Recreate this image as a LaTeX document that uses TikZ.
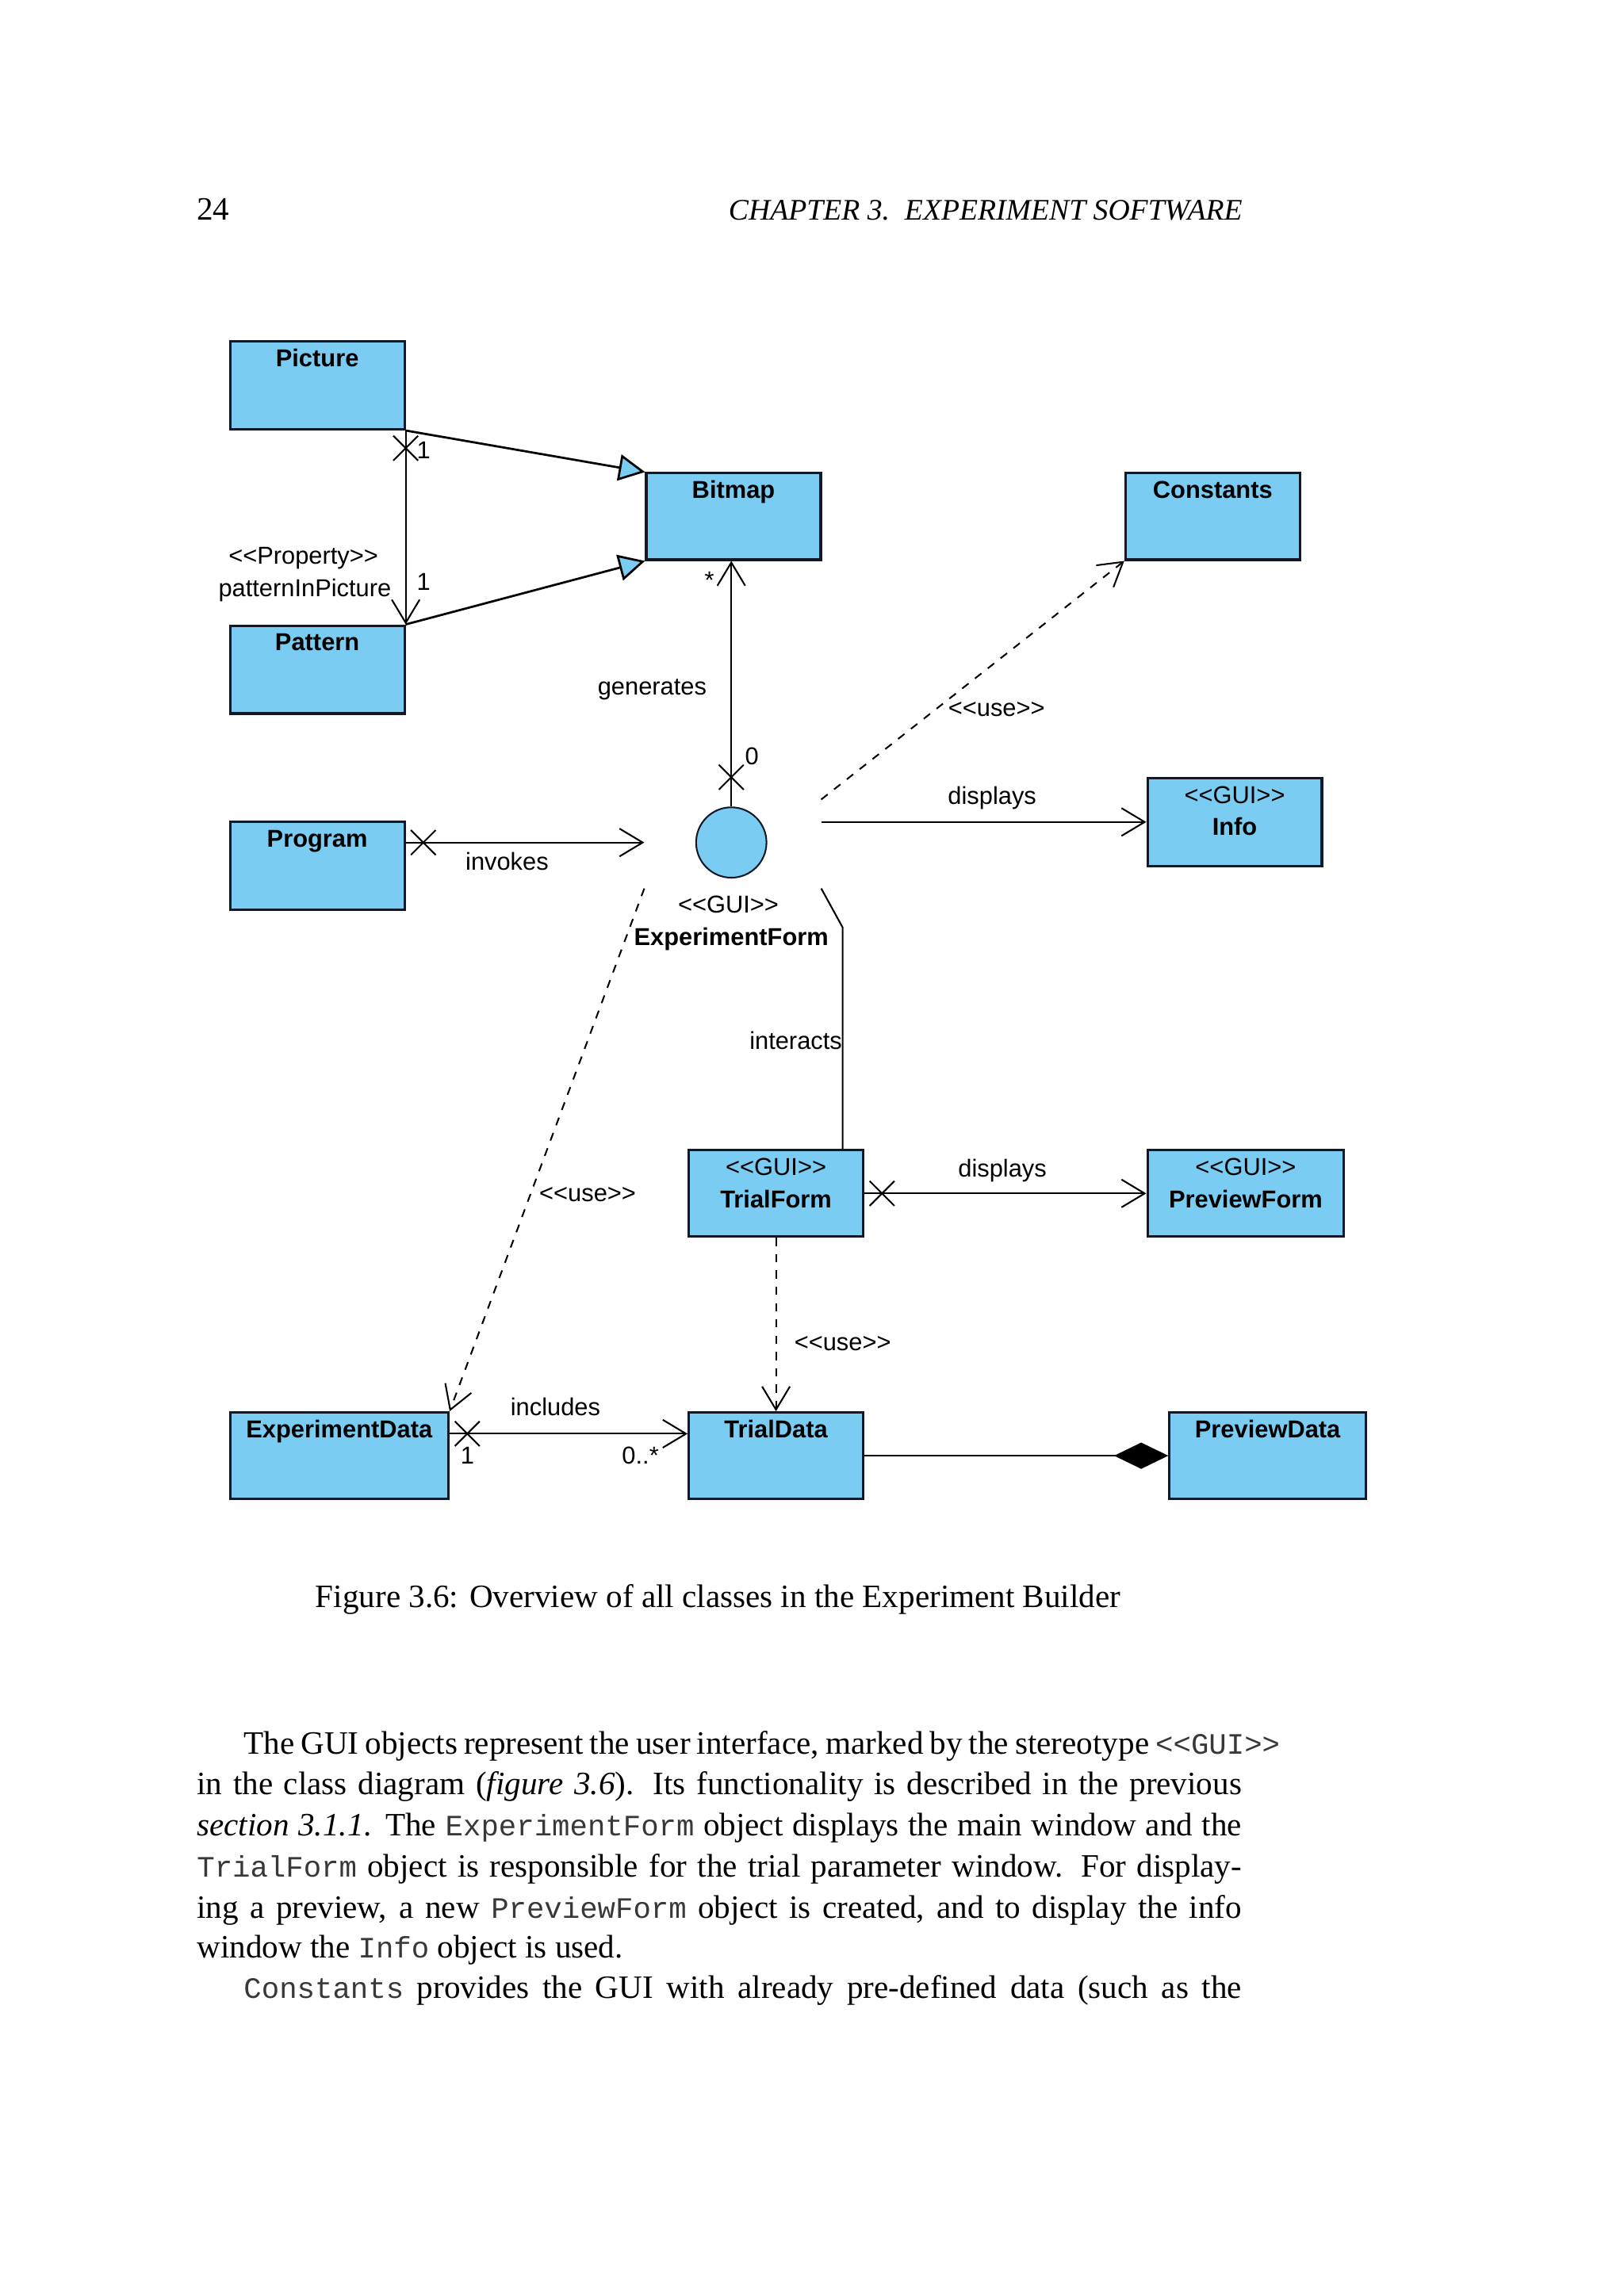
\documentclass[tikz,border=0pt]{standalone}
\usepackage{fontspec}
\setmainfont{Liberation Serif}
\setsansfont{Liberation Sans}
\setmonofont{Liberation Mono}
\usetikzlibrary{calc,fit,arrows.meta,shapes.misc}
\newcommand{\pixelsize}{0.18953mm}
\newcommand{\umlfont}{\fontsize{9}{11}\sffamily\selectfont}
\newcommand{\pagefont}{\fontsize{12}{14}\selectfont}
\newcommand{\stereo}[1]{{<}{<}#1{>}{>}}
\newcommand{\code}[1]{{\fontsize{10.9}{13}\ttfamily\color{black!78}#1}}
\definecolor{umlblue}{RGB}{122,204,242}
\definecolor{umlline}{RGB}{18,24,38}
\newcommand{\makeclass}[6]{
	\node[classbox, fit={(#2,#3) (#4,#5)}] (#1) {};
	\node[classname] (#1-title) at ($(#1.north)+(0,18)$) {#6};
}
\newcommand{\makeguiclass}[6]{
	\node[classbox, fit={(#2,#3) (#4,#5)}] (#1) {};
	\node[umllabel] (#1-stereo) at ($(#1.north)+(0,18)$) {\stereo{GUI}};
	\node[classname] (#1-title) at ($(#1.north)+(0,40)$) {#6};
}
\tikzset{
	classbox/.style={draw=umlline, fill=umlblue, line width=0.9pt, inner sep=0pt},
	classname/.style={anchor=base, inner sep=0pt, font=\umlfont\bfseries},
	umllabel/.style={anchor=base, inner sep=0pt, font=\umlfont},
	pagetext/.style={anchor=base west, inner sep=0pt, font=\pagefont},
	openarrow/.style={line width=0.6pt, -{Straight Barb[length=3mm,width=3.6mm]}},
	usearrow/.style={openarrow, dash pattern=on 3pt off 3pt},
	genarrow/.style={line width=0.8pt, -{Triangle[length=3.4mm,width=3.4mm,fill=umlblue]}},
	xmark/.style={cross out, draw, line width=0.6pt, minimum size=3mm, inner sep=0pt}
}

\begin{document}
\begin{tikzpicture}[x=\pixelsize,y=-\pixelsize]
	\useasboundingbox (0,0) rectangle (1108,1567);
	\fill[white] (0,0) rectangle (1108,1567);

	% running head
	\node[pagetext] (pagenum) at (134,150) {24};
	\node[pagetext, anchor=base east, font=\fontsize{11}{13}\selectfont] (runhead) at (848,150) {\itshape CHAPTER 3.\ \ EXPERIMENT SOFTWARE};

	% classes
	\makeclass{pic}{157}{233}{276}{293}{Picture}
	\makeclass{bmp}{441}{323}{560}{382}{Bitmap}
	\makeclass{con}{768}{323}{887}{382}{Constants}
	\makeclass{pat}{157}{427}{276}{487}{Pattern}
	\makeclass{prog}{157}{561}{276}{621}{Program}
	\makeguiclass{inf}{783}{531}{902}{591}{Info}
	\makeguiclass{tf}{470}{785}{589}{844}{TrialForm}
	\makeguiclass{pf}{783}{785}{917}{844}{PreviewForm}
	\makeclass{ed}{157}{964}{306}{1023}{ExperimentData}
	\makeclass{td}{470}{964}{589}{1023}{TrialData}
	\makeclass{pd}{798}{964}{932}{1023}{PreviewData}

	% the form itself
	\node[circle, draw=umlline, fill=umlblue, line width=0.6pt, minimum size=9.1mm] (ef) at (499,575) {};
	\node[inner sep=0pt, fit={(440,546) (560,606)}] (efbox) {};
	\node[umllabel] (ef-stereo) at (497,623) {\stereo{GUI}};
	\node[classname] (ef-title) at (499,645) {ExperimentForm};

	% generalisations to Bitmap
	\draw[genarrow] (pic.south east) -- (bmp.north west);
	\draw[genarrow] (pat.north east) -- (bmp.south west);

	% patternInPicture
	\draw[openarrow] (pic.south east) -- (pat.north east);
	\node[xmark] (picx) at ($(pic.south east)+(0,12)$) {};
	\node[umllabel] at (289,313) {1};
	\node[umllabel] at (289,403) {1};
	\node[umllabel] at (207,385) {\stereo{Property}};
	\node[umllabel] at (208,407) {patternInPicture};

	% generates
	\draw[openarrow] (ef.north) -- (ef.north |- bmp.south);
	\node[xmark] (genx) at ($(ef.north)+(0,-20)$) {};
	\node[umllabel] at (484,402) {*};
	\node[umllabel] at (513,522) {0};
	\node[umllabel] at (445,474) {generates};

	% invokes
	\draw[openarrow] (prog.east |- ef) -- (efbox.west |- ef);
	\node[xmark] (invx) at ($(prog.east |- ef)+(12,0)$) {};
	\node[umllabel] at (346,594) {invokes};

	% uses and displays from the form
	\draw[usearrow] (efbox.north east) -- (con.south west);
	\node[umllabel] at (680,489) {\stereo{use}};
	\draw[openarrow] (efbox.east |- inf.west) -- (inf.west);
	\node[umllabel] at (677,549) {displays};
	\coordinate (bend) at (575,633);
	\draw[line width=0.6pt] (efbox.south east) -- (bend) -- (bend |- tf.north);
	\node[umllabel] at (543,716) {interacts};
	\draw[usearrow] (efbox.south west) -- (ed.north east);
	\node[umllabel] at (401,820) {\stereo{use}};

	% trial form
	\draw[openarrow] (tf.east) -- (pf.west);
	\node[xmark] (tfx) at ($(tf.east)+(12,0)$) {};
	\node[umllabel] at (684,803) {displays};
	\draw[usearrow] (tf.south) -- (td.north);
	\node[umllabel] at (575,922) {\stereo{use}};

	% data
	\draw[openarrow] ($(ed.east)+(0,-15)$) -- ($(td.west)+(0,-15)$);
	\node[xmark] (edx) at ($(ed.east)+(12,-15)$) {};
	\node[umllabel] at (379,966) {includes};
	\node[umllabel] at (319,999) {1};
	\node[umllabel] at (437,999) {0..*};
	\draw[line width=0.8pt, -{Diamond[length=7mm,width=3.4mm]}] (td.east) -- (pd.west);

	% caption and text
	\node[pagetext, anchor=base] (caption) at (490,1097) {Figure 3.6: Overview of all classes in the Experiment Builder};
	\node[pagetext] (line1) at (166,1197) {\makebox[134.0mm][s]{The GUI objects represent the user interface, marked by the stereotype \code{\stereo{GUI}}}};
	\node[pagetext] (line2) at (134,1225) {\makebox[135.13mm][s]{in the class diagram (\textit{figure 3.6}). Its functionality is described in the previous}};
	\node[pagetext] (line3) at (134,1253) {\makebox[135.13mm][s]{\textit{section 3.1.1}. The \code{ExperimentForm} object displays the main window and the}};
	\node[pagetext] (line4) at (134,1281) {\makebox[135.13mm][s]{\code{TrialForm} object is responsible for the trial parameter window. For display-}};
	\node[pagetext] (line5) at (134,1309) {\makebox[135.13mm][s]{ing a preview, a new \code{PreviewForm} object is created, and to display the info}};
	\node[pagetext] (line6) at (134,1336) {window the \code{Info} object is used.};
	\node[pagetext] (line7) at (166,1364) {\makebox[129.07mm][s]{\code{Constants} provides the GUI with already pre-defined data (such as the}};
\end{tikzpicture}
\end{document}
